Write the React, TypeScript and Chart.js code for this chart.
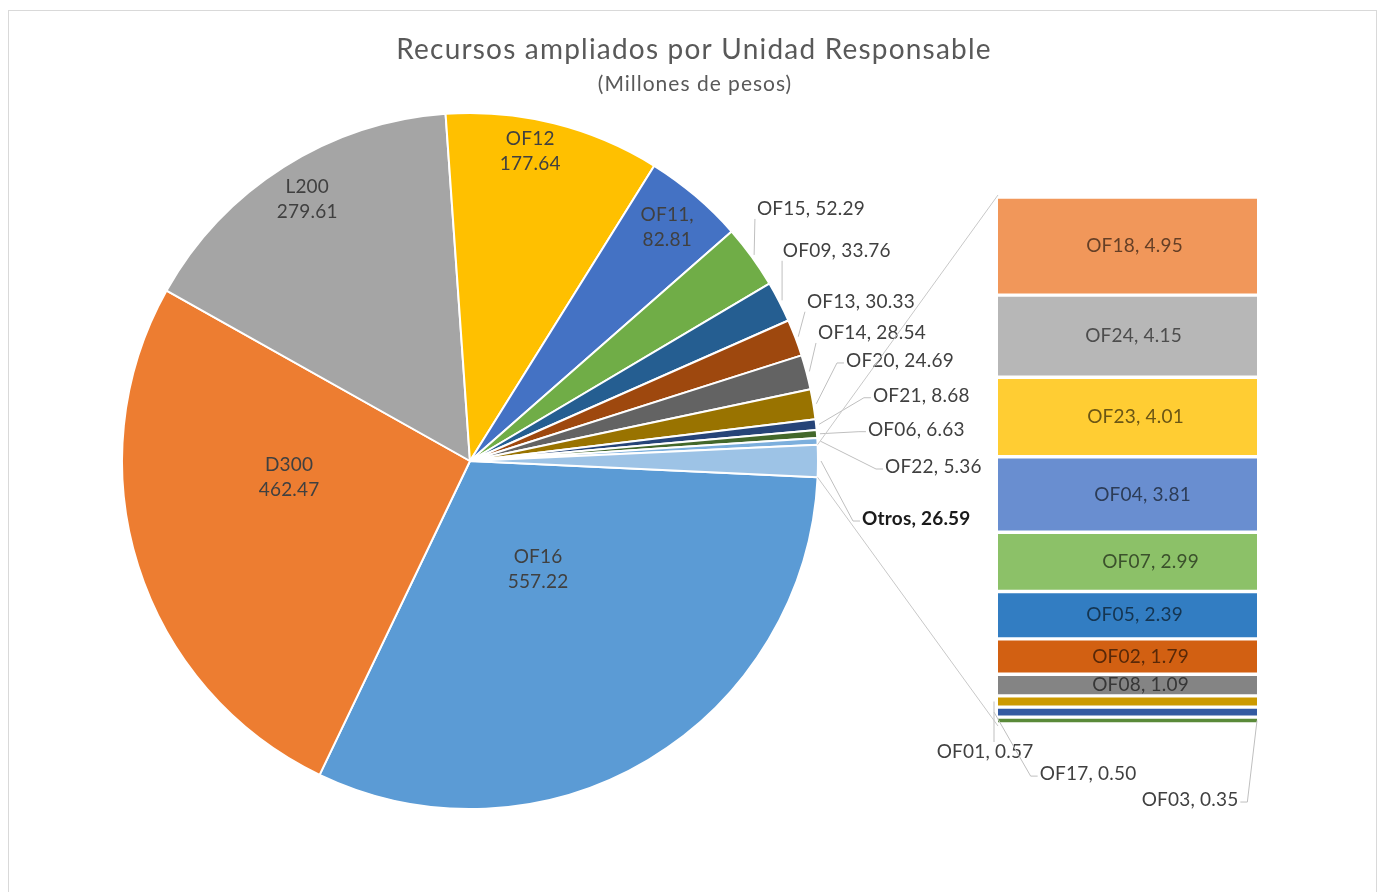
import React, { useEffect, useRef } from "react";
import { Chart, registerables } from "chart.js";
Chart.register(...registerables);

const titleText = "Recursos ampliados por Unidad Responsable";
const subtitleText = "(Millones de pesos)";

const pieLabels = ["OF16", "D300", "L200", "OF12", "OF11", "OF15", "OF09", "OF13", "OF14", "OF20", "OF21", "OF06", "OF22", "Otros"];
const pieValues = [557.22, 462.47, 279.61, 177.64, 82.81, 52.29, 33.76, 30.33, 28.54, 24.69, 8.68, 6.63, 5.36, 26.59];

const barLabels = ["OF18", "OF24", "OF23", "OF04", "OF07", "OF05", "OF02", "OF08", "OF01", "OF17", "OF03"];
const barValues = [4.95, 4.15, 4.01, 3.81, 2.99, 2.39, 1.79, 1.09, 0.57, 0.5, 0.35];

const pieColors = ["#5B9BD5", "#ED7D31", "#A5A5A5", "#FFC000", "#4472C4", "#70AD47", "#255E91", "#9E480E", "#636363", "#997300", "#264478", "#43682B", "#7CAFDD", "#9DC3E6"];
const barColors = ["#F1975A", "#B7B7B7", "#FFCD33", "#698ED0", "#8CC168", "#327DC2", "#D26012", "#848484", "#CC9A00", "#335AA1", "#5A8A39"];

const FONT = "Lato, 'Open Sans', sans-serif";
const LABEL_SIZE = 19;
const LABEL_SPACING = "0.2px";

// label layout (polar: radius factor, angle in degrees clockwise from 3 o'clock)
type PieLay = { r: number; a: number; inside: boolean; sep?: string; bold?: boolean };
const pieLabelLayout: PieLay[] = [
  { r: 0.368, a: 57.9, inside: true, sep: "" },
  { r: 0.522, a: 174.8, inside: true, sep: "" },
  { r: 0.885, a: 238.1, inside: true, sep: "" },
  { r: 0.907, a: 281.0, inside: true, sep: "" },
  { r: 0.878, a: 310.2, inside: true, sep: "," },
  { r: 1.0975, a: 318.7, inside: false },
  { r: 1.083, a: 326.1, inside: false },
  { r: 1.071, a: 334.7, inside: false },
  { r: 1.0655, a: 339.8, inside: false },
  { r: 1.118, a: 345.1, inside: false },
  { r: 1.173, a: 350.8, inside: false },
  { r: 1.147, a: 355.5, inside: false },
  { r: 1.1927, a: 0.83, inside: false },
  { r: 1.1387, a: 8.42, inside: false, bold: true },
];

// bar label layout: inside, or offset from segment centre with leader anchored on a side
type BarLay = { inside: boolean; dx?: number; dy?: number; side?: "left" | "right" };
const barLabelLayout: BarLay[] = [
  { inside: true, dx: 7 }, { inside: true, dx: 6 }, { inside: true, dx: 8 }, { inside: true, dx: 15 }, { inside: true, dx: 23 },
  { inside: true, dx: 7 }, { inside: true, dx: 13 }, { inside: true, dx: 13 },
  { inside: false, dx: -142.5, dy: 50.5, side: "left" },
  { inside: false, dx: -39.5, dy: 62, side: "left" },
  { inside: false, dx: 62.5, dy: 79.5, side: "right" },
];

function darken(hex: string, f: number) {
  const n = parseInt(hex.slice(1), 16);
  const r = Math.round(((n >> 16) & 255) * f);
  const g = Math.round(((n >> 8) & 255) * f);
  const b = Math.round((n & 255) * f);
  return `rgb(${r},${g},${b})`;
}

const clamp = (v: number, a: number, b: number) => Math.max(a, Math.min(b, v));

type Box = { left: number; right: number; top: number; bottom: number };

function drawLeader(ctx: CanvasRenderingContext2D, sx: number, sy: number, box: Box) {
  const cy = (box.top + box.bottom) / 2 + 2;
  ctx.beginPath();
  ctx.moveTo(sx, sy);
  if (sx < box.left - 15) {
    ctx.lineTo(box.left - 9, cy);
    ctx.lineTo(box.left - 2, cy);
  } else if (sx > box.right + 15) {
    ctx.lineTo(box.right + 9, cy);
    ctx.lineTo(box.right + 2, cy);
  } else {
    const ex = clamp(sx, box.left - 2, box.right + 2);
    const ey = sy > box.bottom ? box.bottom : box.top;
    ctx.lineTo(ex, ey);
  }
  ctx.stroke();
}

const pieLabelPlugin = {
  id: "pieLabels",
  afterDatasetsDraw(chart: any) {
    const ctx: any = chart.ctx;
    const meta = chart.getDatasetMeta(0);
    ctx.save();
    ctx.letterSpacing = LABEL_SPACING;
    meta.data.forEach((arc: any, i: number) => {
      const { x, y, outerRadius, startAngle, endAngle } = arc.getProps(["x", "y", "outerRadius", "startAngle", "endAngle"], true);
      const lay = pieLabelLayout[i];
      const ang = (lay.a * Math.PI) / 180;
      const lx = x + Math.cos(ang) * outerRadius * lay.r;
      const ly = y + Math.sin(ang) * outerRadius * lay.r;
      const value = pieValues[i].toFixed(2);
      if (lay.inside) {
        ctx.font = `${LABEL_SIZE}px ${FONT}`;
        ctx.fillStyle = "#404040";
        ctx.textAlign = "center";
        ctx.textBaseline = "middle";
        ctx.fillText(pieLabels[i] + (lay.sep || ""), lx, ly - 12.5);
        ctx.fillText(value, lx, ly + 12.5);
      } else {
        const text = `${pieLabels[i]}, ${value}`;
        ctx.font = `${lay.bold ? "bold " : ""}${LABEL_SIZE}px ${FONT}`;
        const w = ctx.measureText(text).width;
        const box: Box = { left: lx, right: lx + w, top: ly - 10, bottom: ly + 10 };
        const mid = (startAngle + endAngle) / 2;
        const sx = x + Math.cos(mid) * (outerRadius + 3);
        const sy = y + Math.sin(mid) * (outerRadius + 3);
        ctx.strokeStyle = "#BFBFBF";
        ctx.lineWidth = 1;
        drawLeader(ctx, sx, sy, box);
        ctx.fillStyle = lay.bold ? "#1a1a1a" : "#404040";
        ctx.textAlign = "left";
        ctx.textBaseline = "middle";
        ctx.fillText(text, lx, ly);
      }
    });
    ctx.restore();
  },
};

const titlePlugin = {
  id: "titles",
  afterDraw(chart: any) {
    const ctx: any = chart.ctx;
    ctx.save();
    ctx.strokeStyle = "#D9D9D9";
    ctx.lineWidth = 1;
    ctx.strokeRect(8.5, 10.5, 1368, 1000);
    ctx.fillStyle = "#595959";
    ctx.textAlign = "center";
    ctx.textBaseline = "middle";
    ctx.letterSpacing = "1.2px";
    ctx.font = `28px ${FONT}`;
    ctx.fillText(titleText, 694, 50);
    ctx.letterSpacing = "1px";
    ctx.font = `21px ${FONT}`;
    ctx.fillText(subtitleText, 695, 84);
    ctx.restore();
  },
};

function makeBarPlugin(getPie: () => any) {
  return {
    id: "barLabels",
    afterDatasetsDraw(chart: any) {
      const ctx: any = chart.ctx;
      ctx.save();
      ctx.letterSpacing = LABEL_SPACING;
      let barTop = Infinity, barBottom = -Infinity, barLeft = 0;
      chart.data.datasets.forEach((ds: any, i: number) => {
        const el = chart.getDatasetMeta(i).data[0];
        const { x, y, base, width } = el.getProps(["x", "y", "base", "width"], true);
        const top = Math.min(y, base), bottom = Math.max(y, base);
        const left = x - width / 2, right = x + width / 2;
        barTop = Math.min(barTop, top);
        barBottom = Math.max(barBottom, bottom);
        barLeft = left;
        const segY = (top + bottom) / 2;
        const lay = barLabelLayout[i];
        const text = `${barLabels[i]}, ${barValues[i].toFixed(2)}`;
        ctx.font = `${LABEL_SIZE}px ${FONT}`;
        ctx.textBaseline = "middle";
        ctx.textAlign = "center";
        if (lay.inside) {
          ctx.fillStyle = darken(barColors[i], 0.42);
          ctx.fillText(text, x + (lay.dx || 0), segY);
        } else {
          const lx = x + (lay.dx || 0);
          const ly = segY + (lay.dy || 0);
          const w = ctx.measureText(text).width;
          const box: Box = { left: lx - w / 2, right: lx + w / 2, top: ly - 10, bottom: ly + 10 };
          const sx = lay.side === "right" ? right : left - 4;
          ctx.strokeStyle = "#BFBFBF";
          ctx.lineWidth = 1;
          drawLeader(ctx, sx, segY, box);
          ctx.fillStyle = "#404040";
          ctx.fillText(text, lx, ly);
        }
      });
      // connector lines from the bar to the "Otros" slice
      const pie = getPie();
      if (pie) {
        const meta = pie.getDatasetMeta(0);
        const arc = meta.data[meta.data.length - 1];
        const { x, y, outerRadius, startAngle, endAngle } = arc.getProps(["x", "y", "outerRadius", "startAngle", "endAngle"], true);
        ctx.strokeStyle = "#C8C8C8";
        ctx.lineWidth = 1;
        ctx.beginPath();
        ctx.moveTo(barLeft, barTop - 2);
        ctx.lineTo(x + Math.cos(startAngle) * outerRadius, y + Math.sin(startAngle) * outerRadius);
        ctx.moveTo(barLeft, barBottom + 2);
        ctx.lineTo(x + Math.cos(endAngle) * outerRadius, y + Math.sin(endAngle) * outerRadius);
        ctx.stroke();
      }
      ctx.restore();
    },
  };
}

export default function App() {
  const pieRef = useRef<HTMLCanvasElement>(null);
  const barRef = useRef<HTMLCanvasElement>(null);

  useEffect(() => {
    const total = pieValues.reduce((a, b) => a + b, 0);
    const otros = pieValues[pieValues.length - 1];
    const rotation = 90 + (otros / total) * 180;
    let pie: any = null;
    pie = new Chart(pieRef.current!, {
      type: "pie",
      data: {
        labels: pieLabels,
        datasets: [{ data: pieValues, backgroundColor: pieColors, borderColor: "#FFFFFF", borderWidth: 2 }],
      },
      options: {
        responsive: false,
        animation: false,
        events: [],
        rotation,
        radius: 348,
        layout: { padding: { left: 0, right: 444, top: 100, bottom: 70 } },
        plugins: { legend: { display: false }, tooltip: { enabled: false } },
      } as any,
      plugins: [pieLabelPlugin, titlePlugin],
    });
    const barSum = barValues.reduce((a, b) => a + b, 0);
    const bar = new Chart(barRef.current!, {
      type: "bar",
      data: {
        labels: ["Otros"],
        datasets: barLabels.map((l, i) => ({
          label: l,
          data: [barValues[i]],
          backgroundColor: barColors[i],
          borderColor: "#FFFFFF",
          borderWidth: { top: 2, bottom: 2, left: 0, right: 0 },
          borderSkipped: false,
          barPercentage: 1,
          categoryPercentage: 1,
        })),
      },
      options: {
        responsive: false,
        animation: false,
        events: [],
        layout: { padding: { left: 998, right: 127, top: 197, bottom: 168 } },
        scales: {
          x: { display: false, stacked: true },
          y: { display: false, stacked: true, reverse: true, min: 0, max: barSum },
        },
        plugins: { legend: { display: false }, tooltip: { enabled: false } },
      } as any,
      plugins: [makeBarPlugin(() => pie)],
    });
    return () => {
      bar.destroy();
      pie.destroy();
    };
  }, []);

  return (
    <div style={{ position: "absolute", left: 0, top: 0, width: 1384, height: 892, background: "#FFFFFF", overflow: "hidden" }}>
      <canvas ref={pieRef} width={1384} height={892} style={{ position: "absolute", left: 0, top: 0 }} />
      <canvas ref={barRef} width={1384} height={892} style={{ position: "absolute", left: 0, top: 0 }} />
    </div>
  );
}
